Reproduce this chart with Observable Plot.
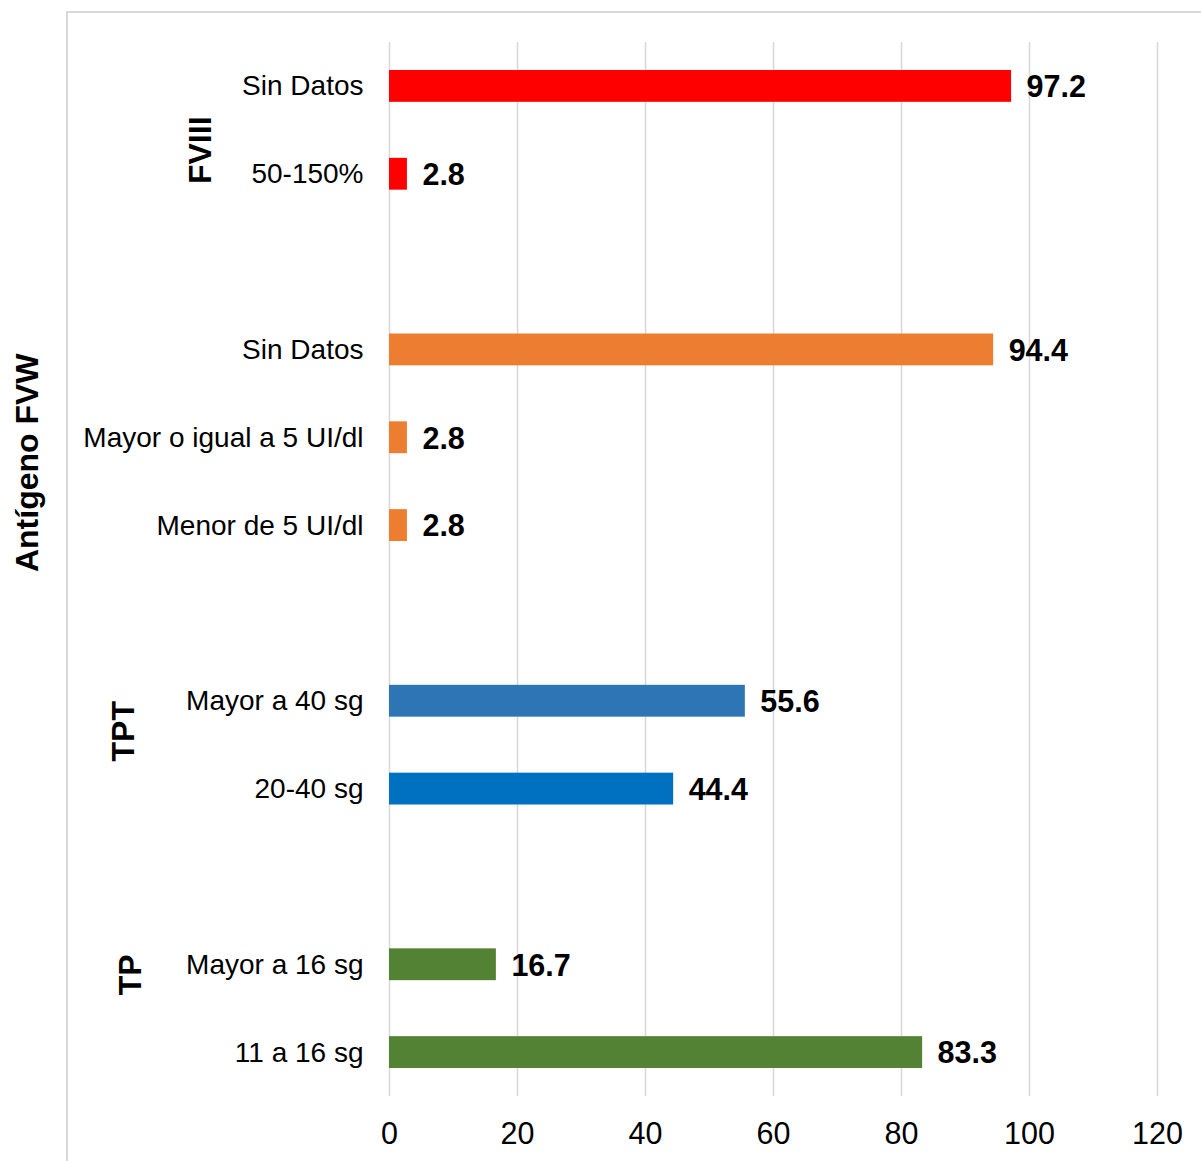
<!DOCTYPE html>
<html>
<head>
<meta charset="utf-8">
<script src="https://cdn.jsdelivr.net/npm/d3@7"></script>
<script src="https://cdn.jsdelivr.net/npm/@observablehq/plot@0.6"></script>
<style>
  html, body { margin: 0; padding: 0; background: #fff; }
  #wrap { position: relative; width: 1201px; height: 1161px; overflow: hidden; }
  #frame { position: absolute; left: 66px; top: 11px; right: -5px; bottom: -5px;
           border-left: 2px solid #d9d9d9; border-top: 2px solid #d9d9d9; pointer-events: none; }
  #chart { position: absolute; left: 0; top: 0; }
</style>
</head>
<body>
<div id="wrap"><div id="chart"></div><div id="frame"></div></div>
<script>
// ---- data ----
const categories = ["Sin Datos", "50-150%", "Sin Datos", "Mayor o igual a 5 UI/dl", "Menor de 5 UI/dl",
                    "Mayor a 40 sg", "20-40 sg", "Mayor a 16 sg", "11 a 16 sg"];
const groups = ["FVIII", "FVIII", "Antígeno FVW", "Antígeno FVW", "Antígeno FVW",
                "TPT", "TPT", "TP", "TP"];
const values = [97.2, 2.8, 94.4, 2.8, 2.8, 55.6, 44.4, 16.7, 83.3];
const colors = ["#FF0000", "#FF0000", "#ED7D31", "#ED7D31", "#ED7D31",
                "#2E75B6", "#0070C0", "#548235", "#548235"];
const groupNames = ["FVIII", "Antígeno FVW", "TPT", "TP"];
const xTicks = [0, 20, 40, 60, 80, 100, 120];

// ---- derived table ----
const rows = categories.map((c, i) => ({
  key: groups[i] + "|" + c, label: c, group: groups[i], value: values[i], color: colors[i]
}));
const domain = [];
groupNames.forEach((g, gi) => {
  rows.filter(r => r.group === g).forEach(r => domain.push(r.key));
  if (gi < groupNames.length - 1) domain.push("gap" + gi);
});
const labelOf = Object.fromEntries(rows.map(r => [r.key, r.label]));

// group label placement (layout only): anchor row index + pixel offsets
const groupLayout = {
  "FVIII":        {row: 1,  dy: -24, dx: -189},
  "Antígeno FVW": {row: 4,  dy: 25,  dx: -362},
  "TPT":          {row: 7,  dy: 30,  dx: -266},
  "TP":           {row: 10, dy: 10,  dx: -259}
};
const groupMarks = groupNames.map(g => {
  const L = groupLayout[g];
  return Plot.text([{name: g, key: domain[L.row]}], {
    y: "key", frameAnchor: "left", text: "name", rotate: -90,
    textAnchor: "middle", lineAnchor: "middle", dx: L.dx, dy: L.dy,
    fontSize: 32, fontWeight: "bold", fill: "#000"
  });
});

const font = "'Liberation Sans', Arial, sans-serif";

const plot = Plot.plot({
  width: 1201,
  height: 1161,
  marginTop: 42,
  marginBottom: 65,
  marginLeft: 389,
  marginRight: 44,
  style: {fontFamily: font, color: "#000", background: "transparent", overflow: "visible"},
  x: {domain: [0, 120], label: null},
  y: {domain, padding: 0, round: false, label: null},
  marks: [
    Plot.ruleX(xTicks, {stroke: "#d9d9d9", strokeWidth: 1.6}),
    Plot.barX(rows, {y: "key", x: "value", fill: "color", insetTop: 28, insetBottom: 28}),
    Plot.text(rows, {y: "key", x: "value", text: d => d.value.toFixed(1), textAnchor: "start",
                     dx: 15, dy: 1, fontSize: 30.5, fontWeight: "bold", fill: "#000"}),
    Plot.axisY({tickSize: 0, tickPadding: 26, fontSize: 28, tickFormat: k => labelOf[k] ?? "", fill: "#000"}),
    Plot.axisX({ticks: xTicks, tickSize: 0, tickPadding: 26, fontSize: 30.5, fill: "#000"}),
    ...groupMarks
  ]
});
document.getElementById("chart").appendChild(plot);
</script>
</body>
</html>
